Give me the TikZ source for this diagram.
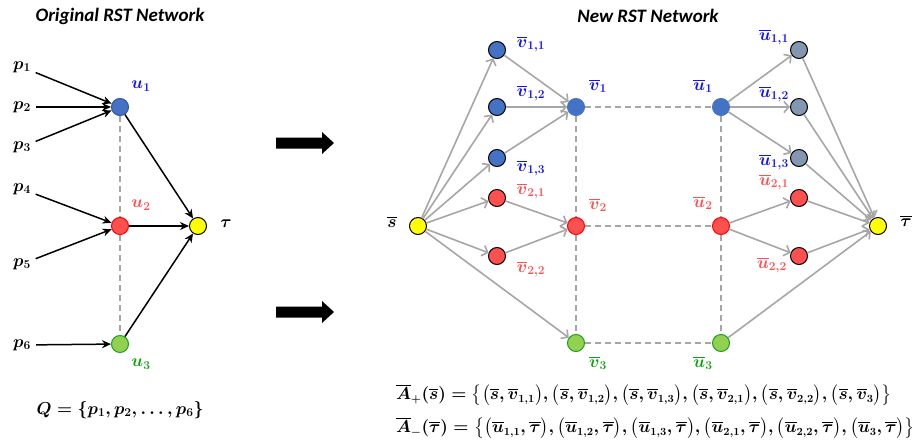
\documentclass[tikz,border=0pt]{standalone}
\usepackage{fontspec}
\usepackage{amsmath}
\newfontfamily\titlefont{Carlito}
\usetikzlibrary{arrows.meta}
\definecolor{nblue}{HTML}{4472C4}
\definecolor{nblueD}{HTML}{2F5597}
\definecolor{nred}{HTML}{FF5050}
\definecolor{nredD}{HTML}{FF0000}
\definecolor{ngreen}{HTML}{92D050}
\definecolor{ngreenD}{HTML}{1E9E1E}
\definecolor{ngray}{HTML}{8497B0}
\definecolor{nyellow}{HTML}{FFFF00}
\definecolor{lblue}{HTML}{1010FF}
\definecolor{lred}{HTML}{FF5050}
\definecolor{lgreen}{HTML}{10A010}
\definecolor{lgray}{HTML}{A6A6A6}
\begin{document}
\begin{tikzpicture}[x=1pt,y=-1pt,
  dot/.style={circle,minimum size=17pt,inner sep=0pt,line width=1pt,draw=black},
  bluedot/.style={dot,fill=nblue},
  reddot/.style={dot,fill=nred},
  greendot/.style={dot,fill=ngreen},
  graydot/.style={dot,fill=ngray},
  yeldot/.style={dot,fill=nyellow},
  lbl/.style={font=\fontsize{17}{19}\selectfont\boldmath,inner sep=0pt},
  frm/.style={font=\fontsize{16.3}{18}\selectfont\boldmath,inner sep=0pt,anchor=west},
  ttl/.style={font=\fontsize{19}{21}\selectfont\titlefont\bfseries\itshape,inner sep=0pt},
  blk/.style={line width=1.5pt,-{Stealth[length=9pt,width=8pt]}},
  gry/.style={draw=lgray,line width=1.6pt,-{Straight Barb[length=5pt,width=11pt]}},
  dsh/.style={draw=lgray,line width=1.6pt,dash pattern=on 6pt off 4pt},
  bigarrow/.style={fill=black}
]
\useasboundingbox (0,0) rectangle (919,445);

% ---------------- Left network ----------------
\node[ttl] (t1) at (120,16) {Original RST Network};

\node[bluedot,draw=nblueD] (u1) at (120,107) {};
\node[reddot,draw=nredD] (u2) at (120,226) {};
\node[greendot,draw=ngreenD] (u3) at (120,344) {};
\node[yeldot] (tau) at (198,226) {};

\node[lbl] (p1) at (22,67) {$p_1$};
\node[lbl] (p2) at (22,107) {$p_2$};
\node[lbl] (p3) at (22,147) {$p_3$};
\node[lbl] (p4) at (22,189) {$p_4$};
\node[lbl] (p5) at (22,264) {$p_5$};
\node[lbl] (p6) at (22,345) {$p_6$};

\node[lbl,text=lblue] (lu1) at (141,86) {$u_1$};
\node[lbl,text=lred] (lu2) at (141,205) {$u_2$};
\node[lbl,text=lgreen] (lu3) at (141,364) {$u_3$};
\node[lbl] (ltau) at (226,224) {$\tau$};

\draw[dsh] (u1) -- (u2);
\draw[dsh] (u2) -- (u3);

\draw[blk,shorten <=5pt] (p1) -- (u1);
\draw[blk,shorten <=5pt] (p2) -- (u1);
\draw[blk,shorten <=5pt] (p3) -- (u1);
\draw[blk,shorten <=5pt] (p4) -- (u2);
\draw[blk,shorten <=5pt] (p5) -- (u2);
\draw[blk,shorten <=5pt] (p6) -- (u3);
\draw[blk] (u1) -- (tau);
\draw[blk] (u2) -- (tau);
\draw[blk] (u3) -- (tau);

\node[lbl] (Q) at (120,410) {$Q=\{p_1,p_2,\dots,p_6\}$};

% ---------------- Big arrows ----------------
\fill[bigarrow] (276,137.5) -- (322,137.5) -- (322,132) -- (334,143) -- (322,154) -- (322,148.5) -- (276,148.5) -- cycle;
\fill[bigarrow] (276,306.5) -- (322,306.5) -- (322,301) -- (334,312) -- (322,323) -- (322,317.5) -- (276,317.5) -- cycle;

% ---------------- Right network ----------------
\node[ttl] (t2) at (648,16) {New RST Network};

\node[yeldot] (s) at (418,226) {};
\node[bluedot] (v11) at (497,50) {};
\node[bluedot] (v12) at (497,107) {};
\node[bluedot] (v13) at (497,158) {};
\node[reddot] (v21) at (497,198) {};
\node[reddot] (v22) at (497,256) {};
\node[bluedot,draw=nblue] (v1) at (576,107) {};
\node[reddot,draw=nredD] (v2) at (576,226) {};
\node[greendot,draw=ngreenD] (v3) at (576,343) {};
\node[bluedot,draw=nblue] (w1) at (721,107) {};
\node[reddot,draw=nredD] (w2) at (721,226) {};
\node[greendot,draw=ngreenD] (w3) at (721,343) {};
\node[graydot] (w11) at (799,50) {};
\node[graydot] (w12) at (799,107) {};
\node[graydot] (w13) at (799,158) {};
\node[reddot] (w21) at (799,198) {};
\node[reddot] (w22) at (799,256) {};
\node[yeldot] (t) at (878,226) {};

\node[lbl] (ls) at (392,222) {$\overline{s}$};
\node[lbl] (lt) at (906,221) {$\overline{\tau}$};
\node[lbl,text=lblue] (lv11) at (531,44) {$\overline{v}_{1,1}$};
\node[lbl,text=lblue] (lv12) at (531,93) {$\overline{v}_{1,2}$};
\node[lbl,text=lblue] (lv13) at (531,168) {$\overline{v}_{1,3}$};
\node[lbl,text=lred] (lv21) at (531,191) {$\overline{v}_{2,1}$};
\node[lbl,text=lred] (lv22) at (531,269) {$\overline{v}_{2,2}$};
\node[lbl,text=lblue] (lv1) at (598,86) {$\overline{v}_1$};
\node[lbl,text=lred] (lv2) at (598,205) {$\overline{v}_2$};
\node[lbl,text=lgreen] (lv3) at (598,363) {$\overline{v}_3$};
\node[lbl,text=lblue] (lw1) at (703,86) {$\overline{u}_1$};
\node[lbl,text=lred] (lw2) at (703,203) {$\overline{u}_2$};
\node[lbl,text=lgreen] (lw3) at (703,363) {$\overline{u}_3$};
\node[lbl,text=lblue] (lw11) at (774,37) {$\overline{u}_{1,1}$};
\node[lbl,text=lblue] (lw12) at (774,94) {$\overline{u}_{1,2}$};
\node[lbl,text=lblue] (lw13) at (774,162) {$\overline{u}_{1,3}$};
\node[lbl,text=lred] (lw21) at (774,182) {$\overline{u}_{2,1}$};
\node[lbl,text=lred] (lw22) at (772,265) {$\overline{u}_{2,2}$};

\draw[dsh] (v1) -- (w1);
\draw[dsh] (v2) -- (w2);
\draw[dsh] (v3) -- (w3);
\draw[dsh] (v1) -- (v2);
\draw[dsh] (v2) -- (v3);
\draw[dsh] (w1) -- (w2);
\draw[dsh] (w2) -- (w3);

\foreach \n in {v11,v12,v13,v21,v22,v3} \draw[gry] (s) -- (\n);
\foreach \n in {v11,v12,v13} \draw[gry] (\n) -- (v1);
\foreach \n in {v21,v22} \draw[gry] (\n) -- (v2);
\foreach \n in {w11,w12,w13} \draw[gry] (w1) -- (\n);
\foreach \n in {w21,w22} \draw[gry] (w2) -- (\n);
\foreach \n in {w11,w12,w13,w21,w22,w3} \draw[gry] (\n) -- (t);

\node[frm] (fa) at (396,395) {$\overline{A}_+(\overline{s})=\bigl\{\bigl(\overline{s},\overline{v}_{1,1}\bigr),\bigl(\overline{s},\overline{v}_{1,2}\bigr),\bigl(\overline{s},\overline{v}_{1,3}\bigr),\bigl(\overline{s},\overline{v}_{2,1}\bigr),\bigl(\overline{s},\overline{v}_{2,2}\bigr),\bigl(\overline{s},\overline{v}_3\bigr)\bigr\}$};
\node[frm] (fb) at (396,428) {$\overline{A}_-(\overline{\tau})=\bigl\{\bigl(\overline{u}_{1,1},\overline{\tau}\bigr),\bigl(\overline{u}_{1,2},\overline{\tau}\bigr),\bigl(\overline{u}_{1,3},\overline{\tau}\bigr),\bigl(\overline{u}_{2,1},\overline{\tau}\bigr),\bigl(\overline{u}_{2,2},\overline{\tau}\bigr),\bigl(\overline{u}_3,\overline{\tau}\bigr)\bigr\}$};
\end{tikzpicture}
\end{document}
